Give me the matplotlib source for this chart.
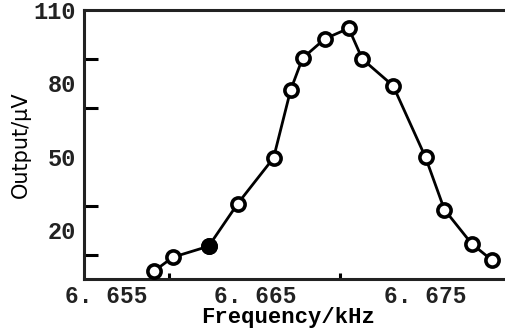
import numpy as np
import matplotlib
matplotlib.use("Agg")
import matplotlib.pyplot as plt
import matplotlib.transforms as mtransforms

# resonance curve
freq_khz = [6.6591, 6.6602, 6.6623, 6.6640, 6.6661, 6.6671, 6.6678, 6.6691,
            6.6705, 6.6713, 6.6731, 6.6750, 6.6761, 6.6777, 6.6789]
output_uv = [3.2, 8.9, 13.4, 30.8, 49.5, 77.3, 90.3, 98.2,
             102.5, 89.9, 79.0, 49.7, 28.4, 14.4, 7.6]
filled_idx = [2]

x_labels = ["6. 655", "6. 665", "6. 675"]
x_label_pos = [6.655, 6.665, 6.675]
x_tick_marks = [6.660, 6.665, 6.670, 6.675]
y_labels = ["20", "50", "80", "110"]
y_label_pos = [20, 50, 80, 110]
y_tick_marks = [10, 30, 50, 70, 90]

fig = plt.figure(figsize=(5.05, 3.33), dpi=100)
ax = fig.add_axes([0.1663, 0.1622, 0.8337, 0.8078])

ax.plot(freq_khz, output_uv, color="black", lw=2.0, zorder=2)
ax.plot(freq_khz, output_uv, ls="none", marker="o", ms=9.5,
        mfc="white", mec="black", mew=2.6, zorder=3)
ax.plot([freq_khz[i] for i in filled_idx], [output_uv[i] for i in filled_idx],
        ls="none", marker="o", ms=9.5, mfc="black", mec="black", mew=2.6, zorder=4)

ax.set_xlim(6.65517, 6.67965)
ax.set_ylim(0, 110)

for s in ["left", "top", "bottom"]:
    ax.spines[s].set_linewidth(2.2)
    ax.spines[s].set_color("#222222")
ax.spines["right"].set_visible(False)

ax.set_xticks(x_label_pos)
ax.set_xticklabels(x_labels, fontfamily="Liberation Mono", fontweight="bold",
                   fontsize=16.5, color="#222222")
ax.set_xticks(x_tick_marks, minor=True)
ax.set_yticks(y_label_pos)
ax.set_yticklabels(y_labels, fontfamily="Liberation Mono", fontweight="bold",
                   fontsize=17, color="#222222")
ax.set_yticks(y_tick_marks, minor=True)

ax.tick_params(which="major", length=0, pad=6)
ax.tick_params(axis="x", which="major", pad=4)
ax.tick_params(axis="x", which="minor", direction="in", length=4, width=2.2)
ax.tick_params(axis="y", which="minor", direction="in", length=10, width=2.2)

# first x label sits a bit to the right in the original
first = ax.get_xticklabels()[0]
first.set_transform(first.get_transform() +
                    mtransforms.ScaledTranslation(0.22, 0, fig.dpi_scale_trans))

ax.set_xlabel("Frequency/kHz", fontfamily="Liberation Mono", fontweight="bold",
              fontsize=16)
ax.xaxis.set_label_coords(0.4846, -0.104)
ax.set_ylabel("Output/\u03bcV", fontfamily=["Liberation Sans Narrow", "DejaVu Sans"],
              fontsize=15, labelpad=2)

fig.savefig("out.png", dpi=100)
